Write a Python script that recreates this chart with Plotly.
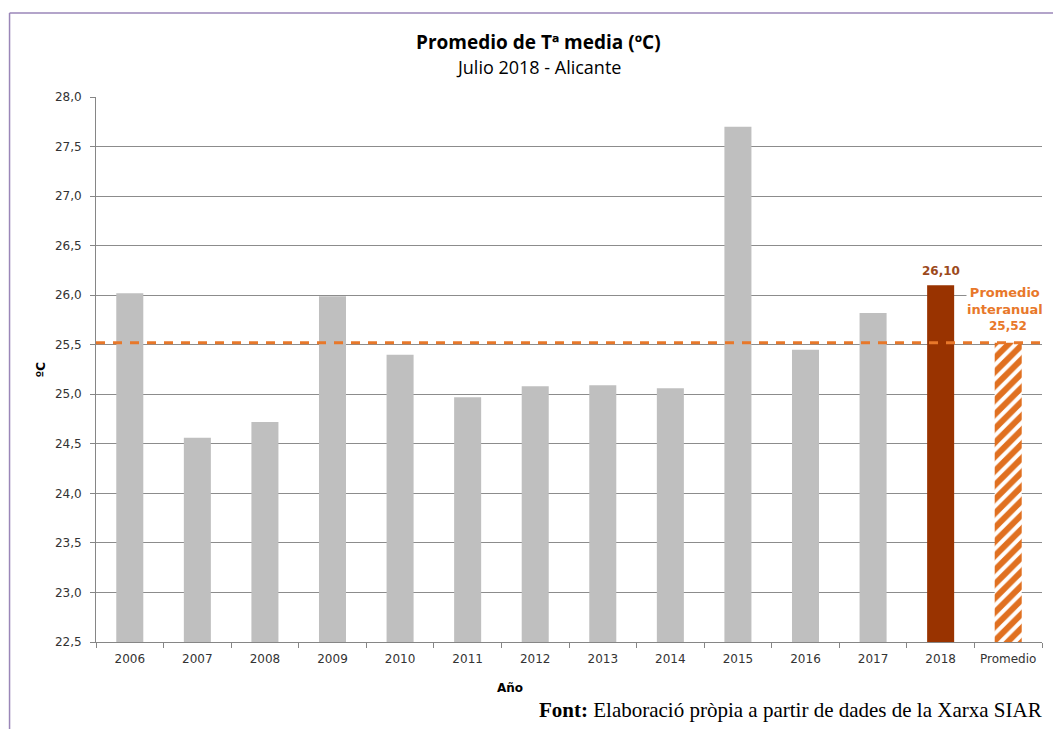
import plotly.graph_objects as go

categories = ["2006", "2007", "2008", "2009", "2010", "2011", "2012",
              "2013", "2014", "2015", "2016", "2017", "2018", "Promedio"]
values = [26.02, 24.56, 24.72, 25.99, 25.40, 24.97, 25.08,
          25.09, 25.06, 27.70, 25.45, 25.82, 26.10, 25.52]
y_ticks = [22.5, 23.0, 23.5, 24.0, 24.5, 25.0, 25.5, 26.0, 26.5, 27.0, 27.5, 28.0]
promedio_value = values[-1]
value_2018 = values[-2]
idx_2018 = categories.index("2018")
idx_prom = categories.index("Promedio")

GRAY = "#bfbfbf"
BROWN = "#993300"
ORANGE = "#e8782a"
HATCH = "#e07020"
WHITE = "#ffffff"

year_colors = [GRAY] * 12 + [BROWN]

W, H = 1053, 729
L, R, T, B = 95.5, 11, 97, 87
PW, PH = W - L - R, H - T - B

def px_x(px):
    return (px - L) / PW

def px_y(py):
    return 1 - (py - T) / PH

fig = go.Figure()
fig.add_trace(go.Bar(
    x=categories[:-1], y=values[:-1],
    marker=dict(color=year_colors, line=dict(width=0)),
    width=0.4, hoverinfo="skip",
))
fig.add_trace(go.Bar(
    x=categories[-1:], y=values[-1:],
    marker=dict(color=WHITE, line=dict(width=0),
                pattern=dict(shape="/", fgcolor=HATCH, bgcolor=WHITE,
                             fgopacity=1, size=10, solidity=0.6)),
    width=0.4, hoverinfo="skip",
))

tickfont = dict(family="DejaVu Sans", size=12, color="#333333")

fig.update_layout(
    width=W, height=H,
    margin=dict(l=L, r=R, t=T, b=B, pad=0),
    paper_bgcolor="white", plot_bgcolor="white",
    separators=",.",
    showlegend=False,
    barmode="overlay",
    xaxis=dict(
        type="category", categoryorder="array", categoryarray=categories,
        range=[-0.5, len(categories) - 0.5], autorange=False,
        showgrid=False, showline=True, linecolor="#868686",
        linewidth=1, ticks="outside", tickson="boundaries", ticklen=5,
        tickcolor="#868686", tickfont=tickfont, zeroline=False, tickangle=0,
        ticklabelstandoff=6,
    ),
    yaxis=dict(
        range=[22.5, 28.0], autorange=False, tickvals=y_ticks, tickformat=".1f",
        showgrid=True, gridcolor="#8c8c8c", gridwidth=1,
        showline=True, linecolor="#868686", linewidth=1,
        ticks="outside", ticklen=5, tickcolor="#868686",
        tickfont=tickfont, zeroline=False, ticklabelstandoff=6,
    ),
)

shapes = [
    dict(type="line", xref="paper", yref="y", x0=0, x1=1,
         y0=promedio_value, y1=promedio_value,
         line=dict(color=ORANGE, width=3, dash="9px,8px"), layer="above"),
    dict(type="line", xref="paper", yref="paper",
         x0=px_x(9), x1=px_x(W + 5), y0=px_y(13), y1=px_y(13),
         line=dict(color="#9a86b8", width=1.5)),
    dict(type="line", xref="paper", yref="paper",
         x0=px_x(9), x1=px_x(9), y0=px_y(13), y1=px_y(H + 5),
         line=dict(color="#9a86b8", width=1.5)),
]
fig.update_layout(shapes=shapes)

annotations = [
    dict(text="<b>Promedio de Tª media (ºC)</b>", xref="paper", yref="paper",
         x=px_x(538), y=px_y(42), showarrow=False, xanchor="center", yanchor="middle",
         font=dict(family="Open Sans", size=19, color="#000000")),
    dict(text="Julio 2018 - Alicante", xref="paper", yref="paper",
         x=px_x(538), y=px_y(67), showarrow=False, xanchor="center", yanchor="middle",
         font=dict(family="Open Sans", size=18, color="#000000")),
    dict(text="<b>Año</b>", xref="paper", yref="paper",
         x=px_x(510), y=px_y(688), showarrow=False, xanchor="center", yanchor="middle",
         font=dict(family="DejaVu Sans", size=12, color="#000000")),
    dict(text="<b>ºC</b>", xref="paper", yref="paper", textangle=-90,
         x=px_x(40), y=px_y(370), showarrow=False, xanchor="center", yanchor="middle",
         font=dict(family="DejaVu Sans", size=12, color="#000000")),
    dict(text="<b>26,10</b>", xref="x", yref="y",
         x=idx_2018, y=value_2018, yshift=14, showarrow=False,
         xanchor="center", yanchor="middle",
         font=dict(family="DejaVu Sans", size=12, color="#9c4a1c")),
    dict(text="<b>Promedio<br>interanual</b>", xref="x", yref="y",
         x=idx_prom, y=25.94, xshift=-3, showarrow=False, xanchor="center", yanchor="middle",
         bgcolor="white", borderpad=0,
         font=dict(family="DejaVu Sans", size=13, color=ORANGE)),
    dict(text="<b>25,52</b>", xref="x", yref="y",
         x=idx_prom, y=promedio_value, yshift=17, showarrow=False,
         xanchor="center", yanchor="middle",
         font=dict(family="DejaVu Sans", size=12, color=ORANGE)),
    dict(text="<b>Font:</b> Elaboració pròpia a partir de dades de la Xarxa SIAR",
         xref="paper", yref="paper", x=px_x(1044), y=px_y(710),
         showarrow=False, xanchor="right", yanchor="middle",
         font=dict(family="Liberation Serif", size=21, color="#000000")),
]
fig.update_layout(annotations=annotations)

fig.write_html("out.html", config={"displayModeBar": False},
               post_script="document.body.style.margin='0';")
